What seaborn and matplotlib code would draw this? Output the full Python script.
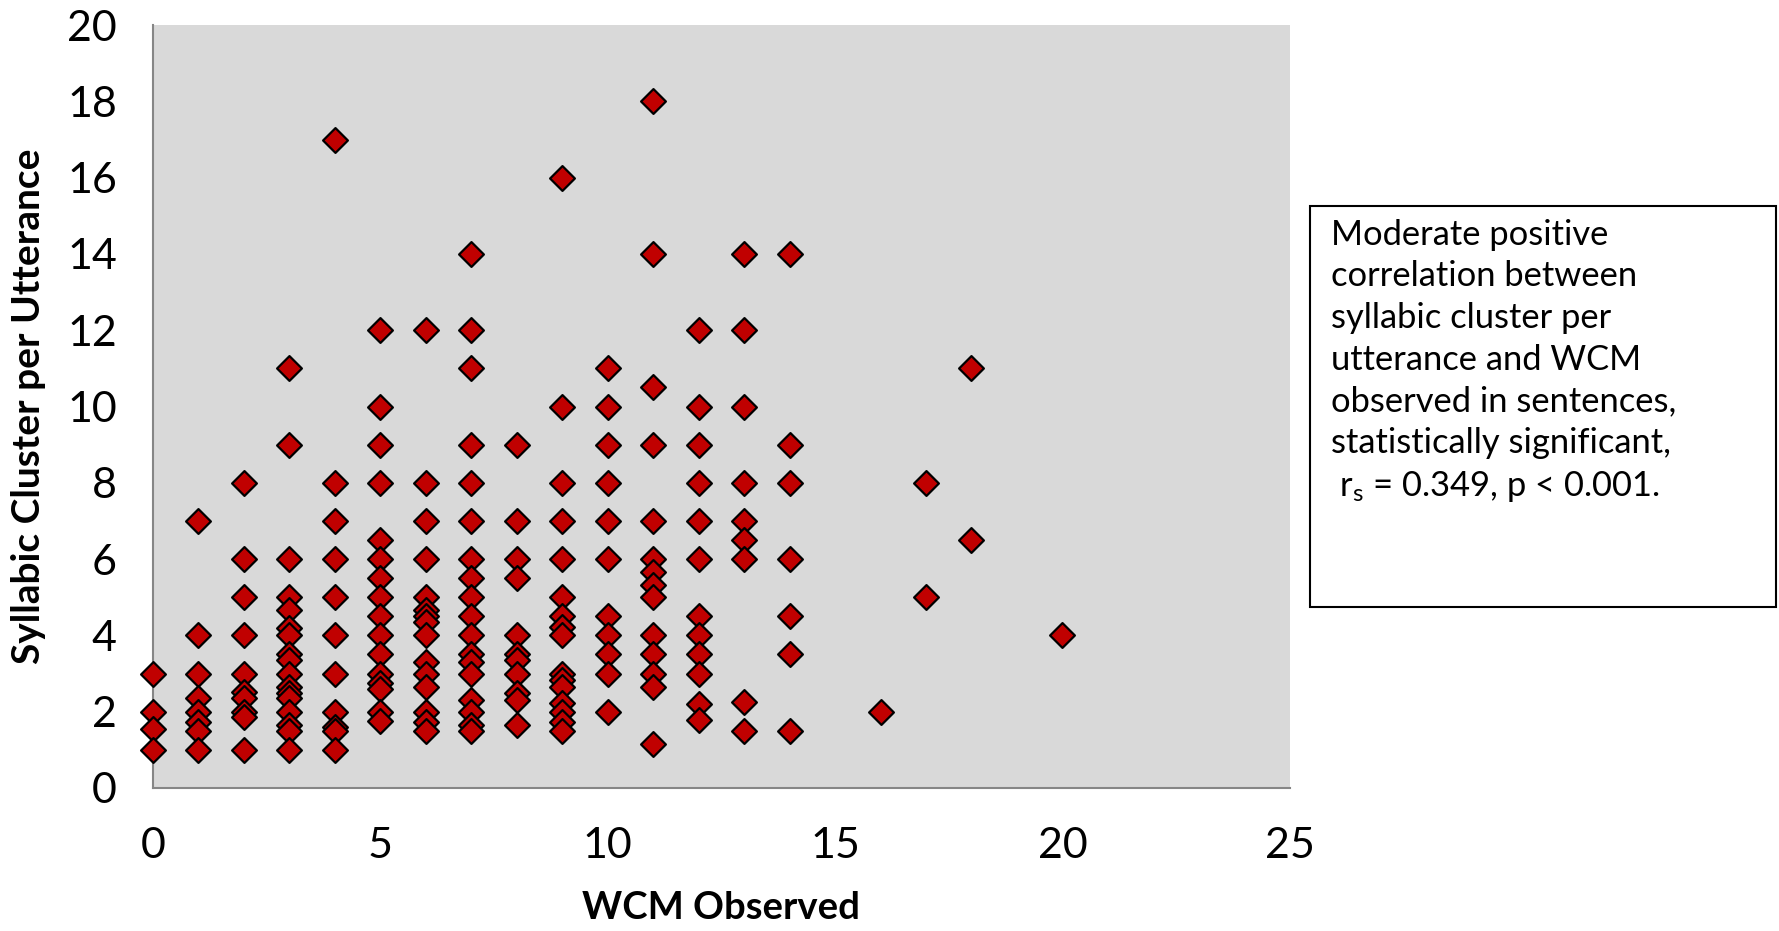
import matplotlib
matplotlib.use("Agg")
import matplotlib.pyplot as plt
from matplotlib.patches import Rectangle
import seaborn as sns
import pandas as pd

# WCM observed (x) -> syllabic cluster per utterance values (y)
wcm_0 = [3, 2, 1.55, 1]
wcm_1 = [7, 4, 3, 2.37, 2, 1.74, 1.5, 1]
wcm_2 = [8, 6, 5, 4, 3, 2.52, 2.36, 2, 1.87, 1]
wcm_3 = [11, 9, 6, 5, 4.67, 4.2, 4, 3.5, 3.35, 3, 2.65, 2.5, 2.36, 2, 1.65, 1.5, 1]
wcm_4 = [17, 8, 7, 6, 5, 4, 3, 2, 1.6, 1.5, 1]
wcm_5 = [12, 10, 9, 8, 6.5, 6, 5.5, 5, 4.5, 4, 3.5, 3, 2.75, 2.6, 2, 1.75]
wcm_6 = [12, 8, 7, 6, 5, 4.67, 4.5, 4.36, 4, 3.31, 3, 2.65, 2, 1.74, 1.5]
wcm_7 = [14, 12, 11, 9, 8, 7, 6, 5.5, 5, 4.5, 4, 3.5, 3.31, 3, 2.3, 2, 1.65, 1.5]
wcm_8 = [9, 7, 6, 5.5, 4, 3.5, 3.35, 3, 2.5, 2.3, 1.65]
wcm_9 = [16, 10, 8, 7, 6, 5, 4.5, 4.23, 4, 3, 2.83, 2.65, 2.24, 2, 1.74, 1.5]
wcm_10 = [11, 10, 9, 8, 7, 6, 4.5, 4, 3.5, 3, 2]
wcm_11 = [18, 14, 10.5, 9, 7, 6, 5.67, 5.32, 5, 4, 3.5, 3, 2.65, 1.15]
wcm_12 = [12, 10, 9, 8, 7, 6, 4.5, 4, 3.5, 3, 2.2, 1.78]
wcm_13 = [14, 12, 10, 8, 7, 6.5, 6, 2.25, 1.5]
wcm_14 = [14, 9, 8, 6, 4.5, 3.5, 1.5]
wcm_16 = [2]
wcm_17 = [8, 5]
wcm_18 = [11, 6.5]
wcm_20 = [4]

columns = {0: wcm_0, 1: wcm_1, 2: wcm_2, 3: wcm_3, 4: wcm_4, 5: wcm_5, 6: wcm_6,
           7: wcm_7, 8: wcm_8, 9: wcm_9, 10: wcm_10, 11: wcm_11, 12: wcm_12,
           13: wcm_13, 14: wcm_14, 16: wcm_16, 17: wcm_17, 18: wcm_18, 20: wcm_20}

x_ticks = [0, 5, 10, 15, 20, 25]
y_ticks = [0, 2, 4, 6, 8, 10, 12, 14, 16, 18, 20]
x_label = "WCM Observed"
y_label = "Syllabic Cluster per Utterance"
note = ("Moderate positive\ncorrelation between\nsyllabic cluster per\n"
        "utterance and WCM\nobserved in sentences,\nstatistically significant,\n"
        " r$_\\mathregular{s}$ = 0.349, p < 0.001.")

rows = [(k, v) for k, vals in columns.items() for v in vals]
df = pd.DataFrame(rows, columns=["wcm", "cluster"])

sns.set_theme(style="white")
plt.rcParams['font.family'] = ['Lato', 'DejaVu Sans']
plt.rcParams['mathtext.fontset'] = 'custom'
plt.rcParams['mathtext.rm'] = 'Lato'
plt.rcParams['text.color'] = 'black'
plt.rcParams['xtick.color'] = 'black'
plt.rcParams['ytick.color'] = 'black'
plt.rcParams['axes.labelcolor'] = 'black'

fig = plt.figure(figsize=(17.79, 9.31), dpi=100)
ax = fig.add_axes([0.086, 0.1536, 0.639, 0.8194])
ax.set_facecolor("#d9d9d9")

sns.scatterplot(data=df, x="wcm", y="cluster", marker="D", s=160,
                color="#c00000", edgecolor="black", linewidth=1.6,
                ax=ax, zorder=3, clip_on=False)

ax.set_xlim(0, 25)
ax.set_ylim(0, 20)
ax.set_xticks(x_ticks)
ax.set_yticks(y_ticks)
ax.tick_params(axis="both", labelsize=31, length=8, width=1.5,
               color="#868686", labelcolor="black", direction="out")
ax.tick_params(axis="x", pad=20)
ax.tick_params(axis="y", pad=18)
for side in ["top", "right"]:
    ax.spines[side].set_visible(False)
for side in ["left", "bottom"]:
    ax.spines[side].set_color("#868686")
    ax.spines[side].set_linewidth(1.5)

ax.set_xlabel(x_label, fontsize=27.5, fontweight="bold")
ax.set_ylabel(y_label, fontsize=28, fontweight="bold")
ax.xaxis.set_label_coords(0.5, -0.135)
ax.yaxis.set_label_coords(-0.094, 0.5)

fig.add_artist(Rectangle((0.7364, 0.348), 0.2619, 0.4307, transform=fig.transFigure,
                         facecolor="white", edgecolor="black", linewidth=1.5))
fig.text(0.748, 0.765, note, fontsize=24.8, va="top", ha="left", linespacing=1.37)

fig.savefig("out.png", dpi=100)
